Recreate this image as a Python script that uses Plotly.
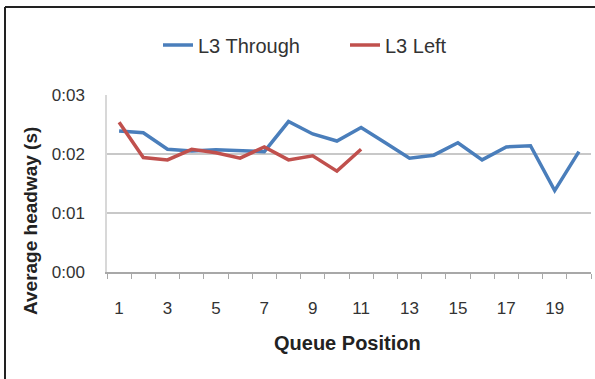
import plotly.graph_objects as go

positions = list(range(1, 21))
through = [2.39, 2.36, 2.08, 2.05, 2.07, 2.05, 2.04, 2.55, 2.34, 2.22, 2.45, 2.19,
           1.93, 1.98, 2.19, 1.90, 2.12, 2.14, 1.38, 2.04]
left_pos = list(range(1, 12))
left = [2.54, 1.94, 1.90, 2.08, 2.02, 1.93, 2.12, 1.90, 1.97, 1.71, 2.08]
y_ticks = [0, 1, 2, 3]
y_ticktext = ["0:00", "0:01", "0:02", "0:03"]
x_ticks = [1, 3, 5, 7, 9, 11, 13, 15, 17, 19]

FONT = "Liberation Sans"
W, H = 595, 379
L, R, T, B = 107, 4, 95, 107
PW, PH = W - L - R, H - T - B


def px(xp):
    return (xp - L) / PW


def py(yp):
    return (H - B - yp) / PH


fig = go.Figure()
fig.add_trace(go.Scatter(x=positions, y=through, mode="lines", name="L3 Through",
                         line=dict(color="#4A7EBB", width=3.5)))
fig.add_trace(go.Scatter(x=left_pos, y=left, mode="lines", name="L3 Left",
                         line=dict(color="#C0504D", width=3.5)))

fig.update_layout(
    width=W, height=H,
    margin=dict(l=L, r=R, t=T, b=B),
    paper_bgcolor="white", plot_bgcolor="white",
    font=dict(family=FONT, size=16, color="#333333"),
    showlegend=True,
    legend=dict(orientation="h", x=px(158), xanchor="left", y=py(45), yanchor="middle",
                font=dict(size=20, color="#333333"),
                entrywidth=142, entrywidthmode="pixels",
                bgcolor="rgba(0,0,0,0)"),
    xaxis=dict(range=[0.5, 20.5], tickmode="array", tickvals=x_ticks,
               ticks="outside", ticklen=20, tickcolor="rgba(255,255,255,0)",
               showgrid=False, zeroline=False,
               showline=True, linecolor="#A8A8A8", linewidth=1.5,
               tickfont=dict(size=17, color="#333333"),
               minor=dict(tickvals=[i + 0.5 for i in range(0, 21)], ticks="outside",
                          ticklen=5, tickcolor="#A8A8A8", tickwidth=1.2, showgrid=False)),
    yaxis=dict(range=[0, 3], tickmode="array", tickvals=y_ticks, ticktext=y_ticktext,
               showgrid=True, gridcolor="#C8C8C8", gridwidth=1.5,
               zeroline=True, zerolinecolor="#A8A8A8", zerolinewidth=1.5,
               showline=True, linecolor="#D8D8D8", linewidth=1.5,
               ticks="outside", ticklen=17, tickcolor="rgba(255,255,255,0)",
               tickfont=dict(size=17, color="#333333")),
)

fig.add_annotation(xref="paper", yref="paper", x=px(347), y=py(343),
                   text="<b>Queue Position</b>", showarrow=False,
                   font=dict(size=20, color="#222222"), xanchor="center", yanchor="middle")
fig.add_annotation(xref="paper", yref="paper", x=px(30), y=py(221),
                   text="<b>Average headway (s)</b>", showarrow=False, textangle=-90,
                   font=dict(size=19, color="#222222"), xanchor="center", yanchor="middle")

# outer frame lines (top and left edges of the original chart border)
fx = px(5)
fy = py(7)
fig.add_shape(type="line", xref="paper", yref="paper", x0=fx, x1=px(W + 5),
              y0=fy, y1=fy, line=dict(color="#222222", width=2))
fig.add_shape(type="line", xref="paper", yref="paper", x0=fx, x1=fx,
              y0=py(H + 5), y1=fy, line=dict(color="#222222", width=2))

fig.write_html("out.html", config={"displayModeBar": False},
               post_script="document.body.style.margin='0px';")
